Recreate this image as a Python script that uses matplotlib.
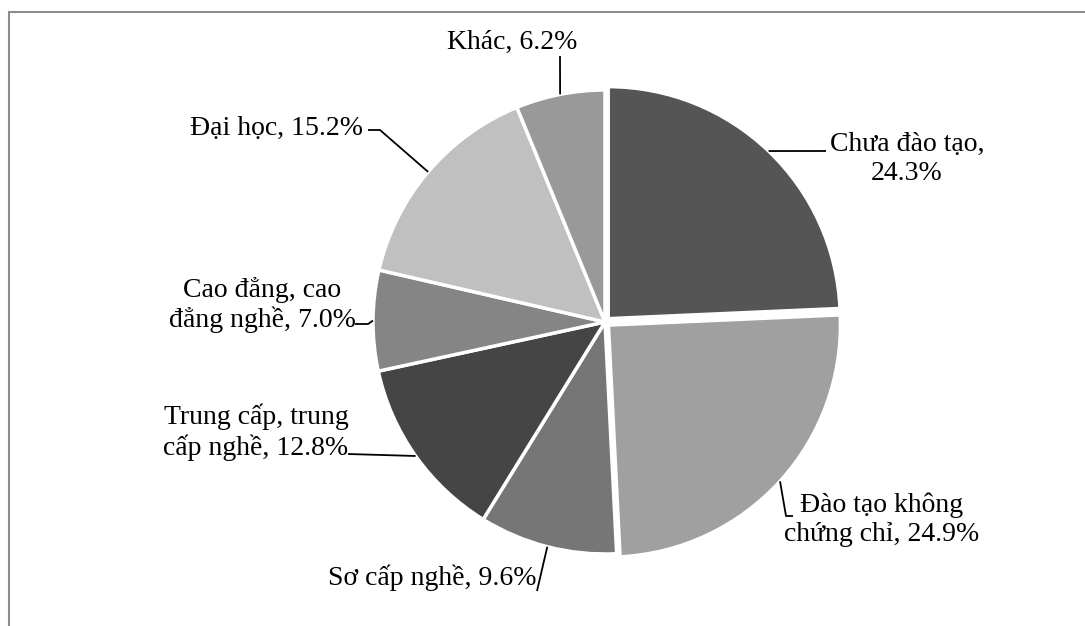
import numpy as np
import matplotlib.pyplot as plt
from matplotlib.patches import Rectangle

plt.rcParams['font.family'] = ['Liberation Serif', 'DejaVu Serif']

# data
labels = ["Chưa đào tạo,\n24.3%", "Đào tạo không\nchứng chỉ, 24.9%", "Sơ cấp nghề, 9.6%",
          "Trung cấp, trung\ncấp nghề, 12.8%", "Cao đẳng, cao\nđẳng nghề, 7.0%",
          "Đại học, 15.2%", "Khác, 6.2%"]
shares = [24.3, 24.9, 9.6, 12.8, 7.0, 15.2, 6.2]
colors = ["#555555", "#a0a0a0", "#767676", "#454545", "#858585", "#c0c0c0", "#999999"]
explode = [0.02, 0.02, 0, 0, 0, 0, 0]

W, H = 1085, 626
CX, CY, R = 605, 322, 232   # pie centre / radius in pixels


def px(x, y):
    # pixel position -> data coords (radius = 1)
    return (x - CX) / R, (CY - y) / R


# where each label sits: text centre, leader end, optional elbow (pixels)
label_pos = [(907, 159), (882, 520), (432, 578), (256, 432), (262, 305), (277, 128), (512, 42)]
leader_end = [(826, 151), (793, 516), (537, 591), (348, 454), (355, 324), (368, 130), (560, 56)]
leader_elbow = [None, (786, 516), None, None, (368, 324), (380, 130), None]

fig = plt.figure(figsize=(W / 100, H / 100), dpi=100)
ax = fig.add_axes([0, 0, 1, 1])

wedges, _ = ax.pie(shares, colors=colors, startangle=90, counterclock=False,
                   explode=explode, radius=1.0,
                   wedgeprops=dict(edgecolor="white", linewidth=2.5))
ax.set_xlim(-CX / R, (W - CX) / R)
ax.set_ylim((CY - H) / R, CY / R)
ax.axis("off")

for i, w in enumerate(wedges):
    ang = np.deg2rad((w.theta1 + w.theta2) / 2)
    cx, cy = w.center
    start = (cx + np.cos(ang), cy + np.sin(ang))
    pts = [start]
    if leader_elbow[i] is not None:
        pts.append(px(*leader_elbow[i]))
    pts.append(px(*leader_end[i]))
    xs, ys = zip(*pts)
    ax.plot(xs, ys, color="black", lw=1.3, solid_capstyle="butt")
    tx, ty = px(*label_pos[i])
    ax.text(tx, ty, labels[i], ha="center", va="center", fontsize=20,
            linespacing=1.2, color="black")

# light grey frame, cut by the image edge on the right and bottom
fig.patches.append(Rectangle((9 / W, -0.1), 2.0, 1 - 12 / H + 0.1, transform=fig.transFigure,
                             fill=False, edgecolor="#8c8c8c", linewidth=1.5))

fig.savefig("out.png", dpi=100)
